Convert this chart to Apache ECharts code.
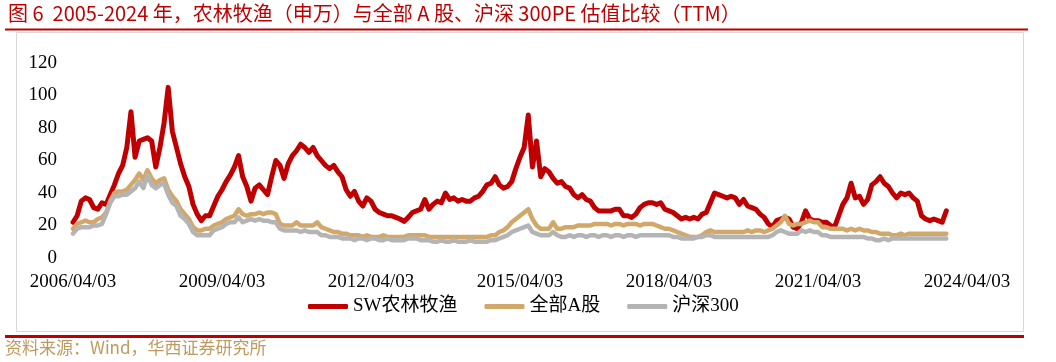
<!DOCTYPE html>
<html>
<head>
<meta charset="utf-8">
<script src="https://cdn.jsdelivr.net/npm/echarts@6/dist/echarts.min.js"></script>
<style>
html,body{margin:0;padding:0;background:#fff;}
#chart{width:1056px;height:362px;}
</style>
</head>
<body>
<div id="chart"></div>
<script>
// Monthly samples starting 2006/04/03
var tickLabels = ['2006/04/03','2009/04/03','2012/04/03','2015/04/03','2018/04/03','2021/04/03','2024/04/03'];
var seriesNames = ['SW农林牧渔','全部A股','沪深300'];

var swAgri = [
22,26,35,37,36,31,30,34,33,39,
45,52,57,68,90,62,72,73,74,72,
56,68,83,105,78,68,58,50,44,33,
27,23,26,26,32,38,42,47,51,56,
63,50,44,35,43,45,42,39,50,60,
57,49,58,63,66,70,68,65,68,63,
60,57,55,57,53,50,42,38,41,35,
32,37,35,30,28,27,26,26,25,24,
22.5,25,28,29,30,36,30,33,35,34,
40,36,37,35,36,35,35,37,38,41,
45,46,50,45,43,44,47,55,62,68,
88,56,72,50,55,53,49,46,47,44,
43,39,37,39,36,35,31,29,29,29,
29,30,30,26,26,25,27,31,33,34,
34,33,34,30,29,28,26,24,25,24,
25,24,27,28,34,40,39,38,37,38,
37,33,36,32,31,30,27,25,21,19,
23,24,25,24,19,18,22,29,24,23,
23,22,22,20,19,26,33,37,46,37,
38,33,36,45,47,50,46,44,40,37,
40,39,40,37,35,26,24,23,24,23,
22,29
];

var allA = [
18,21,22,23,22,22,24,25,28,35,
40,41,41,42,45,48,52,48,54,49,
46,48,49,42,38,35,30,27,24,19,
17,17,18,18,20,21,22,24,25,26,
30,27,26,27,27,28,27,28,28,27,
21,20,20,20,22,20,20,20,20,22,
19,18,17,16,16,15,15,14,14,14,
13,14,13,13,13,14,13,13,13,13,
13,14,14,14,14,14,13,13,13,13,
13,13,13,13,13,13,13,13,13,13,
13,14,14,16,17,19,22,24,26,28,
30,24,20,18,18,18,22,18,18,19,
19,19,20,20,20,20,21,21,21,21,
20,21,21,20,21,21,21,20,21,21,
21,20,19,18,18,17,16,15,14,13,
13,13,14,16,17,16,16,16,16,16,
16,16,16,17,16,17,17,16,17,18,
20,22,26,21,20,21,21,22,23,22,
22,19,19,18,18,18,18,17,18,17,
18,17,17,16,16,15,15,15,14,14,
15,14,15,15,15,15,15,15,15,15,
15,15
];

var hs300 = [
15,18,19,19,19,20,20,21,27,34,
38,38,39,39,41,43,47,43,51,45,
43,45,46,39,34,32,26,24,21,16,
14,14,14,14,17,18,19,21,22,22,
25,22,23,24,23,24,23,23,22,22,
18,17,17,17,17,16,17,16,16,16,
14,14,13,13,13,12,12,12,11,12,
12,11,12,12,11,11,12,11,11,11,
11,12,12,12,11,11,11,10,10,11,
10,10,11,10,10,10,11,10,10,10,
10,11,11,12,13,14,16,17,18,19,
20,16,15,14,14,14,16,14,13,13,
14,13,14,14,13,14,14,13,14,14,
13,14,14,13,14,14,13,14,14,14,
14,14,14,14,14,13,13,12,12,12,
12,13,13,14,14,13,13,13,13,13,
13,13,13,13,13,13,13,13,13,14,
16,17,16,15,15,15,17,16,17,16,
16,14,14,13,13,13,13,13,13,13,
13,13,12,12,11,11,12,11,12,12,
12,12,12,12,12,12,12,12,12,12,
12,12
];

// Month categories from 2006/04/03 to 2024/04/03
var categories = [];
for (var y = 2006, m = 4; y < 2024 || (y === 2024 && m <= 4); ) {
  categories.push(y + '/' + (m < 10 ? '0' + m : m) + '/03');
  m++; if (m > 12) { m = 1; y++; }
}

var serif = '"Liberation Serif","Noto Sans CJK SC",serif';
var chart = echarts.init(document.getElementById('chart'));
chart.setOption({
  animation: false,
  backgroundColor: '#ffffff',
  grid: {left: 73, right: 89, top: 63, bottom: 104, containLabel: false},
  legend: {
    left: 303, top: 292,
    icon: 'roundRect', itemWidth: 40, itemHeight: 5, itemGap: 27,
    textStyle: {fontFamily: serif, fontSize: 19, color: '#000'},
    data: seriesNames
  },
  xAxis: {
    type: 'category', data: categories, boundaryGap: false,
    axisLine: {show: false}, axisTick: {show: false}, splitLine: {show: false},
    axisLabel: {
      interval: function (i, v) { return tickLabels.indexOf(v) >= 0; },
      margin: 15, fontFamily: serif, fontSize: 19, color: '#000'
    }
  },
  yAxis: {
    type: 'value', min: 0, max: 120, interval: 20,
    axisLine: {show: false}, axisTick: {show: false}, splitLine: {show: false},
    axisLabel: {margin: 16, fontFamily: serif, fontSize: 19, color: '#000'}
  },
  series: [
    {name: seriesNames[0], type: 'line', data: swAgri, showSymbol: false, color: '#C00000',
     lineStyle: {width: 5, color: '#C00000', join: 'round', cap: 'round'}},
    {name: seriesNames[1], type: 'line', data: allA, showSymbol: false, color: '#D2A86A',
     lineStyle: {width: 4.5, color: '#D2A86A', join: 'round', cap: 'round'}},
    {name: seriesNames[2], type: 'line', data: hs300, showSymbol: false, color: '#B4B4B4',
     lineStyle: {width: 4.5, color: '#B4B4B4', join: 'round', cap: 'round'}}
  ],
  graphic: [
    {type: 'text', left: 8, top: 3, style: {
      text: '图 6  2005-2024 年，农林牧渔（申万）与全部 A 股、沪深 300PE 估值比较（TTM）',
      fill: '#C00000', font: '20px "Noto Sans CJK SC", sans-serif'}},
    {type: 'rect', shape: {x: 5, y: 28.5, width: 1023, height: 2}, style: {fill: '#C00000'}},
    {type: 'rect', shape: {x: 16.5, y: 32.5, width: 1007, height: 299}, style: {fill: 'none', stroke: '#D9D9D9', lineWidth: 1}},
    {type: 'rect', shape: {x: 5, y: 335, width: 1019, height: 3}, style: {fill: '#C00000'}},
    {type: 'text', left: 5, top: 339, style: {
      text: '资料来源：Wind，华西证券研究所',
      fill: '#BF9A5E', font: '17px "Noto Sans CJK SC", sans-serif'}}
  ]
});
</script>
</body>
</html>
